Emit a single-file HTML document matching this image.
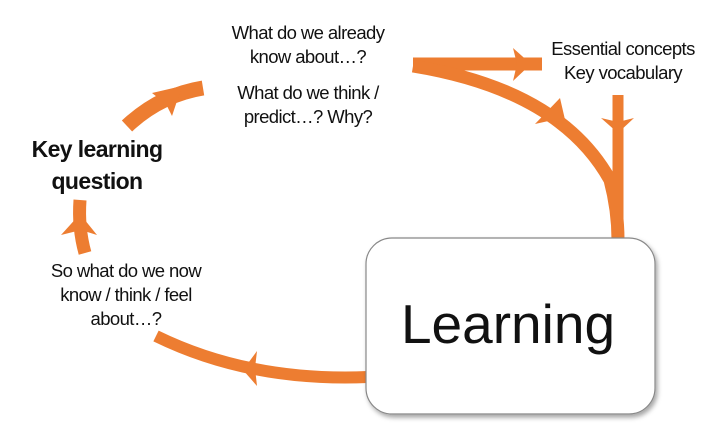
<!DOCTYPE html>
<html><head><meta charset="utf-8"><style>
body{margin:0;width:705px;height:445px;background:#fff;overflow:hidden;font-family:"Liberation Sans",sans-serif}
svg{position:absolute;left:0;top:0}
.t{position:absolute;text-align:center;color:#111;font-size:15px;line-height:24px;white-space:nowrap;transform:translateX(-50%);letter-spacing:-0.6px}
</style></head><body>
<svg width="705" height="445" viewBox="0 0 705 445">
<defs><filter id="s" x="-10%" y="-10%" width="130%" height="130%"><feDropShadow dx="2" dy="3" stdDeviation="2.5" flood-color="#000" flood-opacity="0.35"/></filter></defs>
<g fill="none" stroke="#ED7D31">
<path d="M127 126 Q160 95 203 88" stroke-width="15"/>
<path d="M80 200 Q78 228 85 253" stroke-width="13"/>
<path d="M156 336 Q250 382 368 377" stroke-width="12"/>
<path d="M413 64 L542 64" stroke-width="13"/>
<path d="M413 66 Q560 90 610 180 Q618 210 618 240" stroke-width="13"/>
<path d="M618 95 L618 240" stroke-width="11"/>
</g>
<g fill="#ED7D31">
<polygon points="152,93 182,86 172,116 166,104"/>
<polygon points="61,235 80,214 97,235 81,230"/>
<polygon points="243,370 257,351 255,368 257,386"/>
<polygon points="513,48 531,64 513,81 517,64"/>
<polygon points="535,124 560,98 566,124 553,120"/>
<polygon points="601,118 618,133 634,118 618,122"/>
</g>
<rect x="366" y="238" width="289" height="176" rx="26" fill="#fff" stroke="#888" stroke-width="1.2" filter="url(#s)"/>
</svg>
<div class="t" style="left:308px;top:21px;font-size:18.5px">What do we already<br>know about…?</div>
<div class="t" style="left:308px;top:81px;font-size:18.5px">What do we think /<br>predict…? Why?</div>
<div class="t" style="left:623px;top:37px;font-size:18.5px">Essential concepts<br>Key vocabulary</div>
<div class="t" style="left:97px;top:133px;font-size:23px;font-weight:bold;line-height:32px">Key learning<br>question</div>
<div class="t" style="left:126px;top:259px;font-size:18.5px">So what do we now<br>know / think / feel<br>about…?</div>
<div class="t" style="left:508px;top:292px;font-size:55px;line-height:64px;letter-spacing:0">Learning</div>
</body></html>
